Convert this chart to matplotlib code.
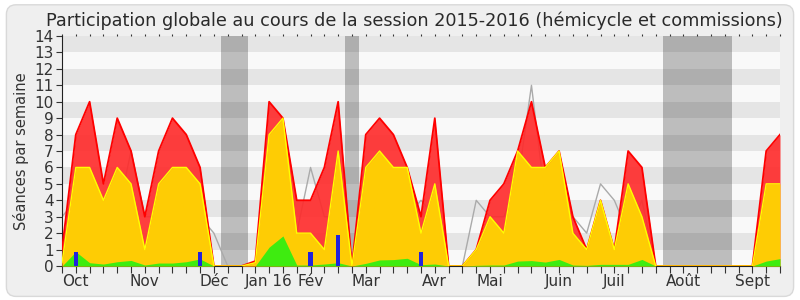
import numpy as np
import matplotlib
matplotlib.use("Agg")
import matplotlib.pyplot as plt
from matplotlib.patches import FancyBboxPatch

# ----------------------------------------------------------
# DATA (one value per week, session 2015-2016)
# ----------------------------------------------------------
weeks = np.arange(53)

total_presence = [1, 8, 10, 5, 9, 7, 3, 7, 9, 8, 6, 0, 0, 0, 0.3,
                  10, 9, 4, 4, 6, 10, 0, 8, 9, 8, 6, 3, 9, 0, 0,
                  1, 4, 5, 7, 10, 6, 7, 3, 1, 4, 1, 7, 6, 0, 0,
                  0, 0, 0, 0, 0, 0, 7, 8]
commission = [0.2, 6, 6, 4, 6, 5, 1, 5, 6, 6, 5, 0, 0, 0, 0.2,
              8, 9, 2, 2, 1, 7, 0, 6, 7, 6, 6, 2, 5, 0, 0,
              1, 3, 2, 7, 6, 6, 7, 2, 1, 4, 1, 5, 3, 0, 0,
              0, 0, 0, 0, 0, 0, 5, 5]
interventions = [0, 0.87, 0.2, 0.12, 0.26, 0.34, 0.06, 0.18, 0.18, 0.26, 0.43, 0, 0, 0, 0,
                 1.15, 1.83, 0.06, 0.06, 0.12, 0.2, 0, 0.16, 0.37, 0.39, 0.47, 0.08, 0.12, 0, 0,
                 0.04, 0.06, 0.06, 0.3, 0.33, 0.24, 0.4, 0.06, 0.04, 0.1, 0.1, 0.1, 0.4, 0, 0,
                 0, 0, 0, 0, 0, 0, 0.3, 0.45]
median_line = [3, 4, 3, 3, 3, 7, 3, 3, 6, 3, 3, 2, 0, 0, 0,
               5, 2, 2, 6, 3, 3, 0, 1, 5, 3, 3, 4, 3, 0, 0,
               4, 3, 3, 5, 11, 4, 4, 3, 2, 5, 4, 2, 4, 0, 0,
               0, 0, 0, 0, 0, 0, 1, 2]

question_weeks = [1, 10, 18, 20, 26]
question_values = [0.87, 0.87, 0.87, 1.9, 0.87]

vacation_spans = [(11.5, 13.5), (20.5, 21.5), (43.5, 48.5)]

month_weeks = [1, 6, 11, 15, 18, 22, 27, 31, 36, 40, 45, 50]
month_labels = ["Oct", "Nov", "Déc", "Jan 16", "Fév", "Mar", "Avr",
                "Mai", "Juin", "Juil", "Août", "Sept"]

TITLE = "Participation globale au cours de la session 2015-2016 (hémicycle et commissions)"

# ----------------------------------------------------------
# FIGURE
# ----------------------------------------------------------
fig = plt.figure(figsize=(8, 3), dpi=100, facecolor="white")
frame = FancyBboxPatch(
    (0.008, 0.012), 0.984, 0.972, boxstyle="round,pad=0,rounding_size=0.012",
    mutation_aspect=800 / 300, transform=fig.transFigure,
    facecolor="#efefef", edgecolor="#d9d9d9", linewidth=1, zorder=-10)
fig.add_artist(frame)

ax = fig.add_axes([0.0775, 0.1133, 0.8975, 0.7667])
ax.set_zorder(1)
ax.set_facecolor("#f9f9f9")

# background stripes
for k in range(1, 14, 2):
    ax.axhspan(k, k + 1, color="#e5e5e5", lw=0, zorder=0)

# holidays
for start, end in vacation_spans:
    ax.axvspan(start, end, color="black", alpha=0.24, lw=0, zorder=1)

# median line (drawn below the areas)
ax.plot(weeks, median_line, color="#aaaaaa", lw=1, zorder=2)

# --- overlapping areas ---
ax.fill_between(weeks, 0, total_presence, color="#ff2a2a", alpha=0.9, lw=0, zorder=3)
ax.plot(weeks, total_presence, color="#ff0000", lw=1.3, zorder=3.1)
ax.fill_between(weeks, 0, commission, color="#ffd800", alpha=0.93, lw=0, zorder=4)
ax.plot(weeks, commission, color="#ffff00", lw=1.0, zorder=4.1)
ax.fill_between(weeks, 0, interventions, color="#33ee11", alpha=0.95, lw=0, zorder=5)

# oral questions
ax.bar(question_weeks, question_values, width=0.32, color="#2222dd", zorder=6)

# ----------------------------------------------------------
# AXES STYLING
# ----------------------------------------------------------
ax.set_xlim(0, 52)
ax.set_ylim(0, 14)
ax.set_yticks(range(0, 15))
ax.tick_params(axis="y", labelsize=11, colors="#333333", length=4, pad=2)

ax.set_xticks(weeks)
ax.set_xticklabels([month_labels[month_weeks.index(w)] if w in month_weeks else ""
                    for w in weeks])
ax.tick_params(axis="x", labelsize=11, colors="#333333", length=5, pad=1,
               top=True, labeltop=False)
for t in ax.xaxis.get_major_ticks():
    t.tick2line.set_markersize(1.5)
    t.tick2line.set_color("#555555")

for side in ("top", "right"):
    ax.spines[side].set_visible(False)
ax.spines["left"].set_color("#222222")
ax.spines["bottom"].set_color("#222222")

ax.set_ylabel("Séances par semaine", fontsize=10.5, color="#333333", labelpad=4)
ax.set_title(TITLE, fontsize=12.7, color="#2a2a2a", pad=7, x=0.49)

fig.savefig("out.png", dpi=100, facecolor=fig.get_facecolor())
